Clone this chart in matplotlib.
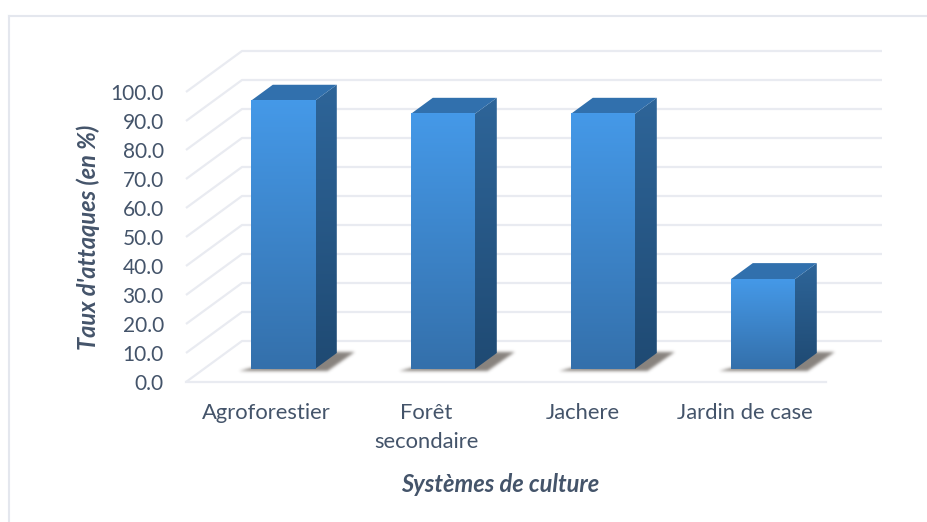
#!/usr/bin/env python
import numpy as np
import matplotlib.pyplot as plt
from matplotlib.patches import Polygon
from matplotlib.path import Path
from matplotlib.colors import LinearSegmentedColormap

categories = ["Agroforestier", "Forêt\nsecondaire", "Jachere", "Jardin de case"]
taux = [92.5, 88.0, 88.0, 31.0]
yticks = [0, 10, 20, 30, 40, 50, 60, 70, 80, 90, 100]

text_col = "#44546a"
grid_col = "#e9ebf1"

plt.rcParams["font.family"] = ["Lato", "DejaVu Sans"]

fig = plt.figure(figsize=(9.28, 5.22), dpi=100)
# main axes lines up the front floor edge with the y scale, extra room on top and right for the depth
ax = fig.add_axes([186 / 928, 1 - 382 / 522, 704 / 928, 362.5 / 522])
ax.patch.set_alpha(0)
for s in ax.spines.values():
    s.set_visible(False)

# depth offset of the back wall, in data units
dx = 56 / 160
dy = 41 / 2.9
# size of one pixel in data units
px = 1 / 160
py = 1 / 2.9


def proj(x, y, d):
    return (x + d * dx, y + d * dy)


def blur(a, sigma):
    # plain gaussian blur along both directions
    r = int(3 * sigma) + 1
    k = np.exp(-0.5 * (np.arange(-r, r + 1) / sigma) ** 2)
    k = k / k.sum()
    a = np.apply_along_axis(lambda m: np.convolve(m, k, mode="same"), 0, a)
    a = np.apply_along_axis(lambda m: np.convolve(m, k, mode="same"), 1, a)
    return a


# wall and floor lines
for v in yticks:
    x0, y0 = proj(0, v, 0)
    x1, y1 = proj(0, v, 1)
    x2, y2 = proj(4, v, 1)
    ax.plot([x0, x1, x2], [y0, y1, y2], color=grid_col, lw=1.6, clip_on=False, zorder=1, solid_capstyle="butt")
ax.plot([0, 4], [0, 0], color=grid_col, lw=1.6, clip_on=False, zorder=1)

front_cmap = LinearSegmentedColormap.from_list("front", ["#3470ab", "#4599e8"])
side_cmap = LinearSegmentedColormap.from_list("side", ["#1f4a73", "#2e6599"])
grad = np.linspace(0, 1, 256).reshape(-1, 1)

bar_w = 0.4
d0 = 0.317
d1 = 0.707

for i, v in enumerate(taux):
    cx = i + 0.495
    xl = cx - bar_w / 2
    xr = cx + bar_w / 2

    # soft floor shadow: blurred mask of the bar footprint, stretched a little sideways
    fx, fy = proj(xl, 0, d0)
    rx, _ = proj(xr, 0, d0)
    bx2, by2 = proj(xr, 0, d1)
    sh = [(fx - 13 * px, fy - 2.5 * py), (rx + 12 * px, fy - 2.5 * py), (bx2 + 18 * px, by2 + 1 * py),
          (bx2 - 4 * px, by2 + 1 * py), (rx, fy + 4 * py), (fx, fy + 1 * py)]
    gx = np.arange(fx - 25 * px, bx2 + 30 * px, px / 2)
    gy = np.arange(fy - 12 * py, by2 + 12 * py, py / 2)
    mx, my = np.meshgrid(gx, gy)
    mask = Path(sh).contains_points(np.c_[mx.ravel(), my.ravel()]).reshape(mx.shape).astype(float)
    rgba = np.zeros(mask.shape + (4,))
    rgba[..., :3] = (0.28, 0.25, 0.22)
    rgba[..., 3] = blur(mask, 3.0) * 0.65
    ax.imshow(rgba, origin="lower", aspect="auto", extent=[gx[0], gx[-1], gy[0], gy[-1]], zorder=2)

    # right side face
    p_side = [proj(xr, 0, d0), proj(xr, v, d0), proj(xr, v, d1), proj(xr, 0, d1)]
    side = Polygon(p_side, closed=True, fc="none", ec="none", zorder=3)
    ax.add_patch(side)
    xs = [p[0] for p in p_side]
    ys = [p[1] for p in p_side]
    im = ax.imshow(grad, cmap=side_cmap, origin="lower", aspect="auto",
                   extent=[min(xs), max(xs), min(ys), max(ys)], zorder=3)
    im.set_clip_path(side)

    # top face
    p_top = [proj(xl, v, d0), proj(xr, v, d0), proj(xr, v, d1), proj(xl, v, d1)]
    ax.add_patch(Polygon(p_top, closed=True, fc="#3170ad", ec="none", zorder=3))

    # front face
    bx, by = proj(xl, 0, d0)
    tx, ty = proj(xr, v, d0)
    ax.imshow(grad, cmap=front_cmap, origin="lower", aspect="auto", extent=[bx, tx, by, ty], zorder=4)

ax.set_xlim(0, 4.4)
ax.set_ylim(0, 125)

ax.set_yticks(yticks)
ax.set_yticklabels(["%.1f" % v for v in yticks], fontsize=15, color=text_col)
ax.tick_params(axis="y", length=0, pad=16)
ax.set_xticks([])

# category labels sit below the floor, first line at a common height
label_x = [266.5, 426, 583, 745]
for lab, x in zip(categories, label_x):
    fig.text(x / 928, 1 - 403 / 522, lab, ha="center", va="top", fontsize=15.8, color=text_col, linespacing=1.57)

fig.text(500 / 928, 1 - 485 / 522, "Systèmes de culture", ha="center", va="center",
         fontsize=17, fontweight="bold", fontstyle="italic", color=text_col)
fig.text(88 / 928, 1 - 237 / 522, "Taux d'attaques (en %)", rotation=90, ha="center", va="center",
         fontsize=17, fontweight="bold", fontstyle="italic", color=text_col)

# chart frame, only left and top edges are visible in the source
fig.add_artist(plt.Line2D([9.5 / 928, 9.5 / 928], [1 - 16 / 522, 0], color="#e4e7ee", lw=1.5))
fig.add_artist(plt.Line2D([9.5 / 928, 1], [1 - 16 / 522, 1 - 16 / 522], color="#e4e7ee", lw=1.5))

plt.savefig("out.png", dpi=100)
